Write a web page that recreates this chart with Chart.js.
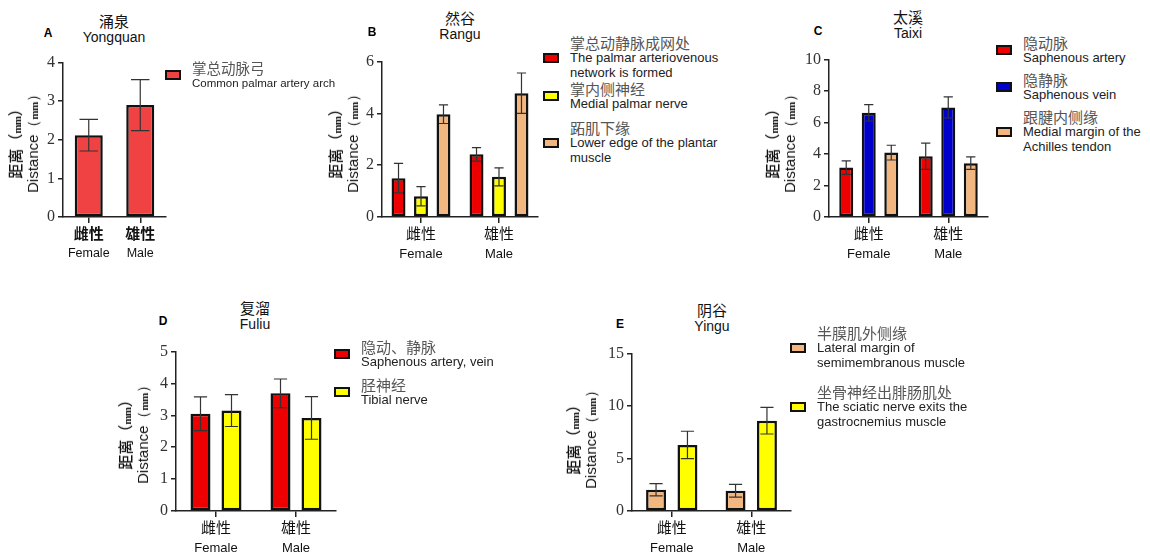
<!DOCTYPE html>
<html>
<head>
<meta charset="utf-8">
<script src="https://cdn.jsdelivr.net/npm/chart.js@4.4.1/dist/chart.umd.min.js"></script>
<style>
  body { margin: 0; background: #fff; font-family: "Liberation Sans", Arial, sans-serif; }
  #wrap { position: relative; width: 1150px; height: 556px; overflow: hidden; }
  canvas { position: absolute; }
  .abs { position: absolute; white-space: nowrap; }
  .ttl { transform: translate(-50%, 0); text-align: center; color: #111; }
  .ttl .cn { font: 15px "Noto Sans CJK SC"; line-height: 16px; }
  .ttl .en { font: 14px "Liberation Sans"; line-height: 16px; }
  .letter { font: bold 12px "Liberation Sans"; transform: translate(-50%, -50%); }
  .ytitle { transform: translate(-50%, -50%) rotate(-90deg); text-align: center; color: #111; }
  .ytitle .cn { font: 500 15px "Noto Sans CJK SC"; line-height: 18px; }
  .ytitle .en { font: 15px "Liberation Sans"; line-height: 18px; }
  .ytitle .mm { font: bold 11px "Liberation Serif"; letter-spacing: -0.5px; }
  .legend .item { position: absolute; left: 0; display: flex; align-items: center; }
  .legend .box { width: 12px; height: 6px; border: 2px solid #111; margin-right: 11px; flex: none; }
  .legend .cn { font: 15px "Noto Sans CJK SC"; line-height: 16px; color: #555; }
  .legend .en { font: 13px "Liberation Sans"; line-height: 14.5px; color: #222; }
  .legend.small .cn { font-size: 14.5px; }
  .legend.small .en { font-size: 11.5px; line-height: 14px; }
</style>
</head>
<body>
<div id="wrap"></div>
<script>
// x categories
const sexCn = ["雌性", "雄性"];
const sexEn = ["Female", "Male"];

// A 涌泉 Yongquan
const yqArchMean = [2.12, 2.90];
const yqArchSd = [0.41, 0.66];

// B 然谷 Rangu
const rgNetworkMean = [1.50, 2.42];
const rgNetworkSd = [0.57, 0.26];
const rgNerveMean = [0.80, 1.55];
const rgNerveSd = [0.37, 0.35];
const rgMuscleMean = [3.97, 4.78];
const rgMuscleSd = [0.36, 0.78];

// C 太溪 Taixi
const txArteryMean = [3.14, 3.86];
const txArterySd = [0.43, 0.83];
const txVeinMean = [6.62, 6.96];
const txVeinSd = [0.52, 0.67];
const txTendonMean = [4.09, 3.42];
const txTendonSd = [0.47, 0.40];

// D 复溜 Fuliu
const flVesselMean = [3.05, 3.69];
const flVesselSd = [0.53, 0.45];
const flNerveMean = [3.15, 2.92];
const flNerveSd = [0.50, 0.67];

// E 阴谷 Yingu
const ygMarginMean = [2.03, 1.93];
const ygMarginSd = [0.58, 0.60];
const ygSciaticMean = [6.30, 8.61];
const ygSciaticSd = [1.30, 1.27];

const RED_A = "#F04242";
const RED = "#EE0000";
const YELLOW = "#FFFF00";
const TAN = "#F2B680";
const BLUE = "#0000CC";

const panels = [
  {
    id: "A", cn: "涌泉", en: "Yongquan", max: 4, step: 1, boldCn: true, smallLegend: true,
    axisX: 63, axisEnd: 166, yTop: 62, y0: 217,
    letter: [48, 33], title: [114, 13], ytitle: [24, 140], legendX: 165, legendY: [68],
    catPct: 0.8, barPct: 0.68,
    series: [
      { cn: "掌总动脉弓", en: "Common palmar artery arch", color: RED_A, mean: yqArchMean, sd: yqArchSd }
    ]
  },
  {
    id: "B", cn: "然谷", en: "Rangu", max: 6, step: 2,
    axisX: 382, axisEnd: 538, yTop: 61, y0: 217,
    letter: [372, 32], title: [460, 10], ytitle: [344, 140], legendX: 543, legendY: [43, 89, 128],
    catPct: 0.865, barPct: 0.62,
    series: [
      { cn: "掌总动静脉成网处", en: "The palmar arteriovenous<br>network is formed", color: RED, mean: rgNetworkMean, sd: rgNetworkSd },
      { cn: "掌内侧神经", en: "Medial palmar nerve", color: YELLOW, mean: rgNerveMean, sd: rgNerveSd },
      { cn: "跖肌下缘", en: "Lower edge of the plantar<br>muscle", color: TAN, mean: rgMuscleMean, sd: rgMuscleSd }
    ]
  },
  {
    id: "C", cn: "太溪", en: "Taixi", max: 10, step: 2,
    axisX: 829, axisEnd: 988, yTop: 59, y0: 217,
    letter: [818, 31], title: [908, 9], ytitle: [781, 140], legendX: 996, legendY: [43, 80, 117],
    catPct: 0.85, barPct: 0.62,
    series: [
      { cn: "隐动脉", en: "Saphenous artery", color: RED, mean: txArteryMean, sd: txArterySd },
      { cn: "隐静脉", en: "Saphenous vein", color: BLUE, mean: txVeinMean, sd: txVeinSd },
      { cn: "跟腱内侧缘", en: "Medial margin of the<br>Achilles tendon", color: TAN, mean: txTendonMean, sd: txTendonSd }
    ]
  },
  {
    id: "D", cn: "复溜", en: "Fuliu", max: 5, step: 1,
    axisX: 176, axisEnd: 336, yTop: 351, y0: 511,
    letter: [163, 321], title: [255, 300], ytitle: [134, 431], legendX: 334, legendY: [347, 385],
    catPct: 0.775, barPct: 0.645,
    series: [
      { cn: "隐动、静脉", en: "Saphenous artery, vein", color: RED, mean: flVesselMean, sd: flVesselSd },
      { cn: "胫神经", en: "Tibial nerve", color: YELLOW, mean: flNerveMean, sd: flNerveSd }
    ]
  },
  {
    id: "E", cn: "阴谷", en: "Yingu", max: 15, step: 5,
    axisX: 632, axisEnd: 791, yTop: 353, y0: 511,
    letter: [620, 324], title: [712, 302], ytitle: [582, 436], legendX: 790, legendY: [333, 392],
    catPct: 0.79, barPct: 0.635,
    series: [
      { cn: "半膜肌外侧缘", en: "Lateral margin of<br>semimembranous muscle", color: TAN, mean: ygMarginMean, sd: ygMarginSd },
      { cn: "坐骨神经出腓肠肌处", en: "The sciatic nerve exits the<br>gastrocnemius muscle", color: YELLOW, mean: ygSciaticMean, sd: ygSciaticSd }
    ]
  }
];

const errorBars = {
  id: "errorBars",
  afterDatasetsDraw(chart) {
    const ctx = chart.ctx;
    const ys = chart.scales.y;
    ctx.save();
    ctx.strokeStyle = "#333";
    ctx.lineWidth = 1.2;
    chart.data.datasets.forEach((ds, d) => {
      chart.getDatasetMeta(d).data.forEach((bar, i) => {
        const m = ds.data[i], s = ds.sd[i];
        const top = ys.getPixelForValue(m + s);
        const bot = ys.getPixelForValue(m - s);
        const half = bar.width * 0.33;
        ctx.beginPath();
        ctx.moveTo(bar.x, top); ctx.lineTo(bar.x, bot);
        ctx.moveTo(bar.x - half, top); ctx.lineTo(bar.x + half, top);
        ctx.moveTo(bar.x - half, bot); ctx.lineTo(bar.x + half, bot);
        ctx.stroke();
      });
    });
    ctx.restore();
  }
};

const sexLabels = {
  id: "sexLabels",
  afterDraw(chart, args, opts) {
    const ctx = chart.ctx;
    const xs = chart.scales.x;
    ctx.save();
    ctx.textAlign = "center";
    ctx.textBaseline = "middle";
    ctx.fillStyle = "#111";
    sexCn.forEach((t, i) => {
      const x = xs.getPixelForTick(i);
      ctx.font = (opts.bold ? "bold " : "") + "15px 'Noto Sans CJK SC'";
      ctx.fillText(t, x, xs.top + 16);
      ctx.font = (opts.bold ? "12.5px" : "13px") + " 'Liberation Sans'";
      ctx.fillText(sexEn[i], x, xs.top + 37);
    });
    ctx.restore();
  }
};

const wrap = document.getElementById("wrap");

function addDiv(cls, html, x, y) {
  const el = document.createElement("div");
  el.className = "abs " + cls;
  el.innerHTML = html;
  el.style.left = x + "px";
  el.style.top = y + "px";
  wrap.appendChild(el);
  return el;
}

panels.forEach((p) => {
  const yW = 40, xH = 45, padTop = 12, padRight = 3;
  const left = p.axisX - yW;
  const top = p.yTop - padTop;
  const width = p.axisEnd - left + padRight;
  const height = p.y0 - top + xH;

  const cv = document.createElement("canvas");
  cv.width = width; cv.height = height;
  cv.style.left = left + "px"; cv.style.top = top + "px";
  cv.style.width = width + "px"; cv.style.height = height + "px";
  wrap.appendChild(cv);

  new Chart(cv.getContext("2d"), {
    type: "bar",
    data: {
      labels: sexCn,
      datasets: p.series.map((s) => ({
        label: s.cn,
        data: s.mean,
        sd: s.sd,
        backgroundColor: s.color,
        borderColor: "#111",
        borderWidth: 2.5,
        borderSkipped: false,
        categoryPercentage: p.catPct,
        barPercentage: p.barPct
      }))
    },
    options: {
      responsive: false,
      animation: false,
      layout: { padding: { top: padTop, right: padRight, left: 0, bottom: 0 } },
      plugins: {
        legend: { display: false },
        tooltip: { enabled: false },
        sexLabels: { bold: !!p.boldCn }
      },
      scales: {
        x: {
          offset: true,
          grid: { display: true, offset: false, drawOnChartArea: false, drawTicks: true, tickLength: 6, color: "#222", lineWidth: 1.5 },
          border: { display: true, color: "#222", width: 1.5 },
          ticks: { display: false },
          afterFit: (s) => { s.height = xH; }
        },
        y: {
          min: 0, max: p.max,
          grid: { display: true, drawOnChartArea: false, drawTicks: true, tickLength: 5, color: "#222", lineWidth: 1.5 },
          border: { display: true, color: "#222", width: 1.5 },
          ticks: { stepSize: p.step, padding: 3, color: "#333", font: { family: "'Liberation Serif'", size: 16 } },
          afterFit: (s) => { s.width = yW; }
        }
      }
    },
    plugins: [errorBars, sexLabels]
  });

  addDiv("letter", p.id, p.letter[0], p.letter[1]);
  addDiv("ttl", '<div class="cn">' + p.cn + '</div><div class="en">' + p.en + "</div>", p.title[0], p.title[1]);
  addDiv("ytitle", '<div class="cn">距离（<span class="mm">mm</span>）</div><div class="en">Distance（<span class="mm">mm</span>）</div>', p.ytitle[0], p.ytitle[1]);
  const lg = addDiv("legend" + (p.smallLegend ? " small" : ""), "", p.legendX, 0);
  p.series.forEach((s, k) => {
    const item = document.createElement("div");
    item.className = "item";
    item.style.top = (p.legendY[k] - 8) + "px";
    item.innerHTML = '<div class="box" style="background:' + s.color + '"></div>' +
      '<div><div class="cn">' + s.cn + '</div><div class="en">' + s.en + "</div></div>";
    lg.appendChild(item);
  });
});
</script>
</body>
</html>
